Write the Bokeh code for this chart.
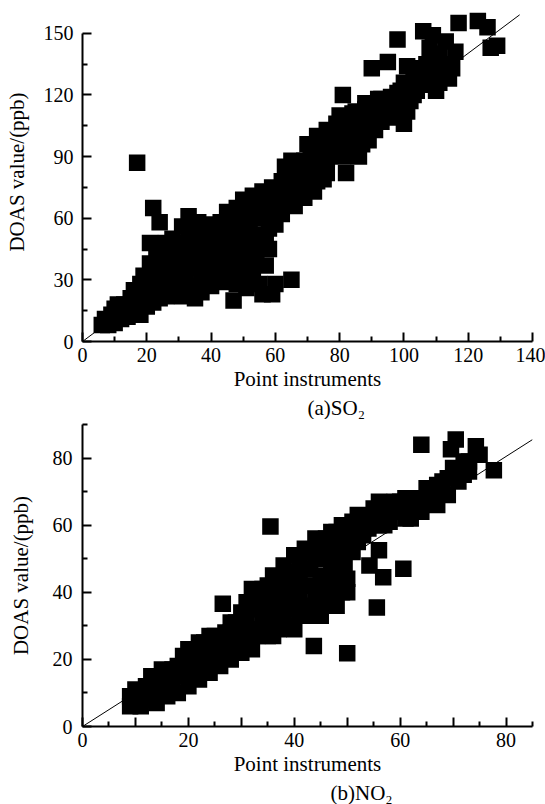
from bokeh.plotting import figure
from bokeh.layouts import column
from bokeh.models import FixedTicker, Title, Range1d
from bokeh.embed import file_html
from bokeh.resources import INLINE

# ---------------- (a) SO2 data ----------------
so2_x = [6, 7, 8, 9, 10, 10, 11, 12, 12, 13, 14, 15, 15, 16, 16, 17, 17, 18, 18, 19, 19, 20, 20,
         21, 21, 21, 22, 22, 22, 23, 23, 24, 24, 24, 25, 26, 26, 27, 27, 28, 28, 29, 29, 30, 30,
         31, 31, 32, 32, 33, 33, 34, 34, 35, 35, 36, 36, 37, 37, 38, 38, 39, 39, 40, 40, 41, 41,
         42, 42, 43, 43, 44, 44, 45, 45, 46, 46, 47, 47, 48, 48, 49, 49, 50, 50, 51, 51, 52, 52,
         53, 53, 54, 54, 55, 55, 56, 56, 57, 57, 58, 58, 59, 59, 60, 60,
         61, 62, 62, 63, 64, 65, 65, 66, 67, 68, 69, 70, 71, 72, 73, 74, 75, 76, 77, 78, 79, 80,
         81, 82, 82, 84, 85, 86, 87, 88, 89, 90, 90, 91, 92, 93, 95, 95, 96, 97, 98, 98, 99, 100,
         100, 101, 102, 103, 104, 106, 106, 107, 108, 109, 110, 110, 112, 113, 114, 116, 117, 123,
         126, 127, 129,
         70, 73, 76, 80, 84, 88, 92,
         22, 23, 25, 26, 27, 28, 29, 30, 30, 31, 32, 33, 33, 34, 35, 35, 36, 37, 37, 38,
         39, 40, 40, 41, 42, 43, 43, 44, 45, 45, 46, 47, 48, 48, 49, 50, 50, 51, 52, 53,
         53, 54, 55, 55, 56, 57, 58, 59, 60, 61, 62, 63, 64, 65, 66, 67, 68, 69, 70, 71,
         72, 73, 74, 75, 76, 77, 78, 79, 80, 81, 83, 83, 85, 86, 87, 88, 89, 91, 93, 94,
         97, 99, 101, 103, 104, 105, 107, 108, 111, 111, 113, 115]
so2_y = [8, 11, 8, 13, 9, 16, 18, 11, 15, 18, 12, 16, 21, 14, 25, 19, 87, 13, 28, 32, 21, 17, 26,
         48, 38, 30, 65, 22, 19, 44, 28, 58, 21, 34, 40, 48, 22, 42, 30, 36, 50, 24, 45, 31, 39,
         56, 22, 48, 34, 61, 27, 42, 53, 21, 36, 58, 46, 30, 24, 51, 40, 57, 33, 45, 27, 55, 37,
         49, 30, 58, 41, 29, 52, 63, 45, 35, 55, 20, 42, 65, 50, 31, 58, 38, 69, 46, 26, 55, 63,
         34, 71, 44, 50, 28, 62, 23, 73, 37, 52, 66, 45, 23, 75, 28, 57,
         69, 62, 78, 85, 70, 30, 88, 66, 76, 86, 70, 81, 91, 73, 86, 95, 79, 89, 101, 93, 106, 97,
         120, 82, 109, 100, 112, 90, 104, 113, 98, 109, 133, 103, 115, 107, 136, 113, 119, 109, 147, 121, 113, 106,
         126, 134, 117, 129, 122, 151, 133, 126, 143, 149, 122, 137, 131, 146, 128, 141, 155, 156,
         153, 143, 144,
         96, 100, 103, 110, 111, 116, 118,
         30, 36, 26, 34, 38, 28, 40, 25, 47, 42, 28, 38, 50, 24, 45, 55, 40, 35, 52, 28,
         45, 38, 52, 30, 40, 33, 50, 45, 38, 55, 48, 60, 28, 40, 45, 52, 60, 35, 45, 52,
         64, 38, 48, 70, 60, 67, 55, 68, 64, 74, 70, 75, 80, 72, 82, 70, 78, 88, 74, 84,
         95, 78, 88, 96, 82, 93, 102, 97, 104, 90, 96, 106, 102, 108, 96, 108, 114, 110, 118, 110,
         116, 122, 112, 120, 130, 125, 135, 130, 126, 140, 135, 133]
fit_a_x = [0, 136]
fit_a_y = [0, 159]
a_xticks = [0, 20, 40, 60, 80, 100, 120, 140]
a_xminor = [10, 30, 50, 70, 90, 110, 130]
a_yticks = [0, 30, 60, 90, 120, 150]
a_yminor = [15, 45, 75, 105, 135]

# ---------------- (b) NO2 data ----------------
no2_x = [9, 9, 10, 10, 11, 12, 12, 13, 13, 14,
         14, 15, 15, 16, 16, 17, 17, 18, 18, 19,
         19, 20, 20, 21, 21, 22, 22, 23, 23, 24,
         24, 25, 25, 26, 26.5, 27, 27, 28, 28, 29,
         29, 30, 30, 31, 31, 32, 32, 33, 33, 34,
         34, 35, 35, 35.5, 36, 36, 37, 37, 38, 38,
         39, 39, 40, 40, 40, 41, 41, 42, 42, 42,
         43, 43, 43.7, 44, 44, 45, 45, 46, 46, 47,
         47, 48, 48, 49, 49, 50, 50, 50, 49.5, 51,
         52, 52, 53, 53, 54.2, 54, 55, 55.6, 56, 56.8,
         57, 58, 58, 59, 60.6, 60, 61, 62, 63, 64,
         64, 65, 66, 67, 68, 69, 70.5, 70, 69.6, 72,
         73, 74.3, 75, 77.7,
         20, 22, 24, 28, 30, 32, 34, 35, 37, 38,
         40, 33, 36, 39, 31, 37, 38, 41, 43, 45,
         46, 48, 47, 49, 50, 51, 52,
         39, 40, 41, 42, 43, 44, 44, 45, 45, 46,
         46, 47, 47, 48, 48, 49, 49, 50, 51, 52,
         53, 54, 55, 56, 56, 57, 59, 60, 61, 62,
         63, 65, 66, 67, 69, 71, 72, 73, 36, 34,
         32, 30, 28, 26, 24, 22, 20, 18, 16, 14,
         12, 11, 37, 35, 36]
no2_y = [6, 9, 7, 11, 6, 8, 12, 9, 15, 7,
         11, 13, 17, 9, 12, 14, 17, 10, 15, 17,
         21, 12, 19, 15, 22, 14, 20, 17, 25, 16,
         21, 22, 27, 18, 36.6, 21, 28, 20, 25, 23,
         31, 22, 27, 25, 33, 23, 29, 27, 36, 29,
         32, 27, 38, 59.6, 31, 34, 29, 41, 32, 37,
         30, 43, 35, 46, 29, 38, 50, 33, 53, 42,
         36, 47, 24, 40, 56, 33, 44, 37, 51, 42,
         58, 36, 47, 40, 60, 21.8, 44, 53, 48, 61,
         55, 63, 57, 62, 48, 59, 62, 35.5, 52.5, 44.5,
         63, 66, 61, 64, 47, 67, 62, 65, 68, 84,
         64, 67, 70, 66, 73, 69, 85.5, 77, 82.6, 75,
         79, 83.5, 81, 76.4,
         23, 25, 27, 31, 34, 41, 41, 42, 44, 48,
         51, 39, 45, 46, 37, 36, 42, 44, 52, 50,
         45, 53, 38, 50, 40, 56, 58,
         38, 40, 33, 47, 42, 34, 50, 39, 55, 42,
         56, 47, 53, 42, 58, 45, 55, 57, 52, 60,
         59, 62, 65, 60, 67, 60, 67, 64, 68, 62,
         64, 71, 67, 72, 74, 73, 79, 76, 38, 36,
         35, 30, 28, 24, 24, 17, 16, 18, 16, 14,
         10, 9, 32, 33, 27]
fit_b_x = [0, 85]
fit_b_y = [0, 85.5]
b_xticks = [0, 10, 20, 30, 40, 50, 60, 70, 80]
b_xlabels = {0: "0", 10: "", 20: "20", 30: "", 40: "40", 50: "", 60: "60", 70: "", 80: "80"}
b_xminor = [5, 15, 25, 35, 45, 55, 65, 75, 85]
b_yticks = [0, 20, 40, 60, 80]
b_yminor = [10, 30, 50, 70, 90]

FONT = "Liberation Serif"
FS = "20px"


def style(p, xt, xm, yt, ym, ylab_standoff, tick_standoff_y):
    p.xgrid.visible = False
    p.ygrid.visible = False
    p.outline_line_color = None
    p.background_fill_color = "white"
    p.border_fill_color = "white"
    p.xaxis.ticker = FixedTicker(ticks=xt, minor_ticks=xm)
    p.yaxis.ticker = FixedTicker(ticks=yt, minor_ticks=ym)
    for ax in (p.xaxis[0], p.yaxis[0]):
        ax.axis_line_width = 2
        ax.axis_line_color = "black"
        ax.major_tick_line_width = 2
        ax.minor_tick_line_width = 2
        ax.major_tick_line_color = "black"
        ax.minor_tick_line_color = "black"
        ax.major_tick_in = 9
        ax.major_tick_out = 0
        ax.minor_tick_in = 5
        ax.minor_tick_out = 0
        ax.major_label_text_font = FONT
        ax.major_label_text_font_size = FS
        ax.major_label_text_font_style = "normal"
        ax.major_label_text_color = "black"
        ax.axis_label_text_font = FONT
        ax.axis_label_text_font_size = "21px"
        ax.axis_label_text_font_style = "normal"
        ax.axis_label_text_color = "black"
    p.xaxis.major_label_standoff = 6
    p.xaxis.axis_label_standoff = 2
    p.yaxis.major_label_standoff = tick_standoff_y
    p.yaxis.axis_label_standoff = ylab_standoff


# ---------------- figure (a) ----------------
pa = figure(width=545, height=419, output_backend="svg", toolbar_location=None,
            x_range=Range1d(0, 140), y_range=Range1d(0, 165),
            min_border_left=82, min_border_right=12, min_border_top=2, min_border_bottom=77,
            x_axis_label="Point instruments", y_axis_label="DOAS value/(ppb)")
style(pa, a_xticks, a_xminor, a_yticks, a_yminor, 12, 9)
pa.yaxis.bounds = (0, 150)
pa.line(fit_a_x, fit_a_y, line_color="black", line_width=1)
pa.scatter(so2_x, so2_y, marker="square", size=16.5, fill_color="black", line_color="black", line_width=0)
pa.add_layout(Title(text="(a)SO\u2082", align="left", offset=225, text_font=FONT,
                    text_font_size="21px", text_font_style="normal", text_color="black",
                    standoff=0), "below")

# ---------------- figure (b) ----------------
pb = figure(width=545, height=385, output_backend="svg", toolbar_location=None,
            x_range=Range1d(0, 85), y_range=Range1d(0, 90),
            min_border_left=79, min_border_right=13, min_border_top=5, min_border_bottom=77,
            x_axis_label="Point instruments", y_axis_label="DOAS value/(ppb)")
style(pb, b_xticks, b_xminor, b_yticks, b_yminor, 17, 10)
pb.xaxis.major_label_overrides = b_xlabels
pb.line(fit_b_x, fit_b_y, line_color="black", line_width=1)
pb.scatter(no2_x, no2_y, marker="square", size=16.5, fill_color="black", line_color="black", line_width=0)
pb.add_layout(Title(text="(b)NO\u2082", align="left", offset=248, text_font=FONT,
                    text_font_size="21px", text_font_style="normal", text_color="black",
                    standoff=0), "below")

layout = column(pa, pb, spacing=0)
open("out.html", "w").write(file_html(layout, INLINE))
